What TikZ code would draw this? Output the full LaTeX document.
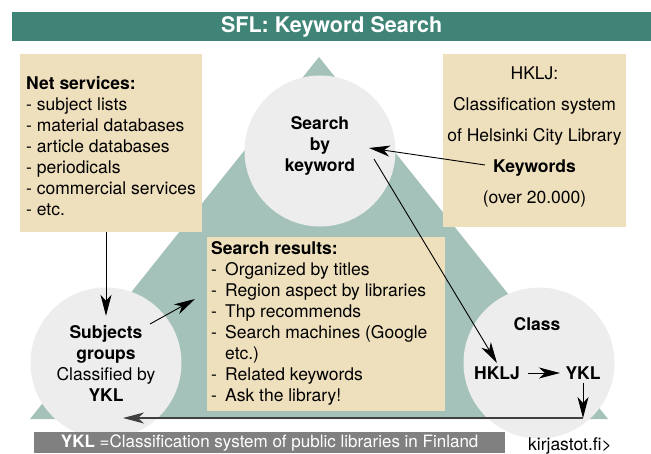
\documentclass[tikz,border=0pt]{standalone}
\usepackage{fontspec}
\setmainfont{TeX Gyre Heros}
\usetikzlibrary{arrows.meta}

\definecolor{sflgreen}{RGB}{63,132,119}
\definecolor{trigreen}{RGB}{164,194,186}
\definecolor{boxtan}{RGB}{238,223,189}
\definecolor{circgray}{RGB}{237,237,237}
\definecolor{bargray}{RGB}{128,128,128}

\newcommand{\rdash}{\makebox[14pt][l]{-}}

\begin{document}
\begin{tikzpicture}[x=1pt,y=-1pt,
  every node/.style={font=\fontsize{17.5}{21}\selectfont},
  tanbox/.style={fill=boxtan, inner sep=0pt, anchor=north west},
  greyc/.style={circle, fill=circgray, inner sep=0pt, minimum size=151pt},
  arr/.style={line width=0.9pt, -{Stealth[length=21pt,width=11pt,inset=6pt]}}]
  \useasboundingbox (0,0) rectangle (651,454);
  % background triangle
  \coordinate (apex) at (319,57);
  \coordinate (baseR) at (608,419);
  \coordinate (baseL) at (30,419);
  \fill[trigreen] (apex)--(baseR)--(baseL)--cycle;
  % title bar
  \node[fill=sflgreen, text=white, anchor=north west, inner sep=0pt,
        minimum width=639pt, minimum height=29pt,
        font=\fontsize{21.5}{24}\selectfont\bfseries] (title) at (12,12) {SFL: Keyword Search};
  % boxes
  \node[tanbox, minimum width=182pt, minimum height=178pt] (netbox) at (20,54) {};
  \node[tanbox, minimum width=183pt, minimum height=173pt] (hkljbox) at (443,54) {};
  \node[tanbox, minimum width=238pt, minimum height=174pt] (resbox) at (207,237) {};
  % circles
  \node[greyc] (searchc) at (320,151) {};
  \node[greyc] (subjc) at (106,363) {};
  \node[greyc] (classc) at (539,363) {};
  % texts
  \node[align=left, anchor=north west, inner sep=0pt] (nettxt) at (26,76)
    {\textbf{Net services:}\\- subject lists\\- material databases\\- article databases\\
     - periodicals\\- commercial services\\- etc.};
  \node[align=center, anchor=north, inner sep=0pt,
        font=\fontsize{17.5}{31}\selectfont] (hkljtxt) at (534.5,67)
    {HKLJ:\\Classification system\\of Helsinki City Library\\\textbf{Keywords}\\(over 20.000)};
  \node[align=left, anchor=north west, inner sep=0pt] (restxt) at (211,241)
    {\textbf{Search results:}\\\rdash Organized by titles\\\rdash Region aspect by libraries\\
     \rdash Thp recommends\\\rdash Search machines (Google\\\hspace*{14pt}etc.)\\
     \rdash Related keywords\\\rdash Ask the library!};
  \node[align=center, inner sep=0pt, font=\fontsize{17.5}{21}\selectfont\bfseries] (searchtxt) at (320,146)
    {Search\\by\\keyword};
  \node[align=center, inner sep=0pt] (subjtxt) at (106,363)
    {\textbf{Subjects}\\\textbf{groups}\\Classified by\\\textbf{YKL}};
  \node[font=\fontsize{17.5}{21}\selectfont\bfseries] (classtxt) at (537,324) {Class};
  \node[font=\fontsize{17.5}{21}\selectfont\bfseries] (hklj) at (497,373) {HKLJ};
  \node[font=\fontsize{17.5}{21}\selectfont\bfseries] (ykl) at (583,373) {YKL};
  % connectors
  \coordinate (subjout) at (150,324);
  \coordinate (resin) at (195,299);
  \coordinate (kwtail) at (485,165);
  \coordinate (kwtip) at (369,148);
  \coordinate (kwout) at (374,159);
  \coordinate (retcorner) at (583,418);
  \coordinate (retend) at (123,418);
  \draw[arr, shorten >=9pt] (netbox.south -| subjtxt.north) -- (subjtxt.north);
  \draw[arr] (subjout) -- (resin);
  \draw[arr] (kwtail) -- (kwtip);
  \draw[arr] (kwout) -- (hklj.north);
  \draw[arr, shorten <=5pt, shorten >=2pt] (hklj) -- (ykl);
  \draw[arr] (ykl.south) -- (retcorner);
  \draw[arr, line width=1.6pt, black!75] (retcorner) -- (retend);
  % footer
  \node[fill=bargray, text=white, anchor=north west, inner sep=0pt,
        minimum width=471pt, minimum height=21pt, font=\fontsize{17}{20}\selectfont] (yklbar) at (34,432)
    {\textbf{YKL} =Classification system of public libraries in Finland};
  \node (kirj) at (570,446) {kirjastot.fi>};
\end{tikzpicture}
\end{document}
